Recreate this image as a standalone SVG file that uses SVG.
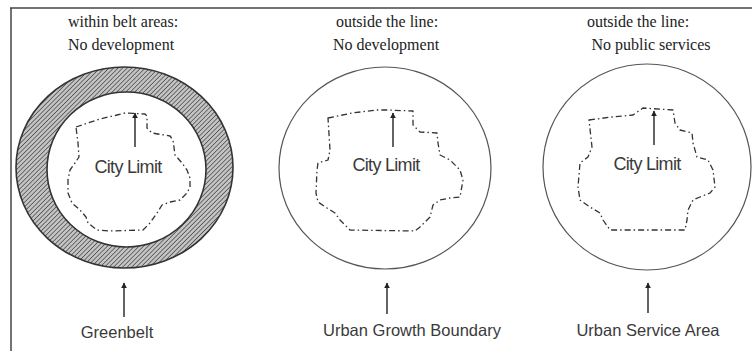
<svg xmlns="http://www.w3.org/2000/svg" width="752" height="351" viewBox="0 0 752 351">
<style>
.title{font-family:"Liberation Serif","Times New Roman",serif;font-size:16px;fill:#222;text-anchor:middle}
.lbl{font-family:"Liberation Sans",Arial,sans-serif;font-size:16.5px;fill:#3a3a3a;text-anchor:middle}
.city{font-family:"Liberation Sans",Arial,sans-serif;font-size:18px;fill:#3a3a3a;text-anchor:middle;letter-spacing:-0.7px}
.bound{fill:none;stroke:#555;stroke-width:1.2}
.blob{fill:none;stroke:#333;stroke-width:1.3;stroke-dasharray:6 3 1.5 3;stroke-linejoin:round}
.arr{stroke:#222;stroke-width:1.4;fill:none;marker-end:url(#ah)}
</style>
<defs>
<marker id="ah" viewBox="0 0 10 10" refX="9" refY="5" markerWidth="6" markerHeight="6" markerUnits="userSpaceOnUse" orient="auto">
<path d="M0,0 L10,5 L0,10 z" fill="#222"/>
</marker>
<pattern id="hatch" width="3.2" height="3.2" patternUnits="userSpaceOnUse" patternTransform="rotate(45)">
<rect width="3.2" height="3.2" fill="#c4c4c4"/>
<line x1="0" y1="0" x2="0" y2="3.2" stroke="#444" stroke-width="1.4"/>
</pattern>
</defs>
<g id="frame">
<line x1="10" y1="8" x2="752" y2="8" stroke="#444" stroke-width="1.5"/>
<line x1="11" y1="8" x2="11" y2="351" stroke="#444" stroke-width="1.5"/>
</g>
<g id="greenbelt">
<text class="title" x="123" y="27">within belt areas:</text>
<text class="title" x="121" y="50">No development</text>
<path d="M233,167.5 A108.5,100.5 0 1 0 16,167.5 A108.5,100.5 0 1 0 233,167.5 Z M206,169.5 A79.5,77.5 0 1 1 47,169.5 A79.5,77.5 0 1 1 206,169.5 Z" fill="url(#hatch)" fill-rule="evenodd" stroke="#333" stroke-width="1.6"/>
<path class="blob" d="M76,127 L100,119 L117,115 L125,113 L145,114 L147,116 L147,128 L152,133 L170,136 L173,140 L175,155 L182,163 L187,170 L190,178 L190,187 L187,193 L180,200 L170,202 L162,205 L157,213 L150,223 L143,230 L110,231 L97,230 L88,223 L86,217 L80,210 L72,203 L68,193 L68,180 L70,170 L75,163 L79,157 L78,143 Z"/>
<text class="city" x="128" y="173">City Limit</text>
<text class="lbl" x="117" y="338">Greenbelt</text>
</g>
<g id="ugb">
<text class="title" x="387" y="27">outside the line:</text>
<text class="title" x="386" y="50">No development</text>
<ellipse class="bound" cx="385" cy="168" rx="106" ry="101"/>
<path class="blob" d="M328,118 L352,113 L377,110 L387,110 L413,111 L413,125 L420,132 L437,133 L438,143 L440,155 L450,160 L460,170 L463,180 L460,197 L450,198 L440,200 L433,205 L430,217 L420,227 L415,231 L350,230 L340,220 L335,213 L327,208 L318,202 L316,193 L317,170 L318,163 L328,160 L330,150 Z"/>
<text class="city" x="386" y="171">City Limit</text>
<text class="lbl" x="412" y="336">Urban Growth Boundary</text>
</g>
<g id="usa">
<text class="title" x="638" y="27">outside the line:</text>
<text class="title" x="651" y="50">No public services</text>
<ellipse class="bound" cx="647" cy="167" rx="104" ry="103"/>
<path class="blob" d="M589,120 L612,117 L633,115 L643,108 L673,110 L675,123 L680,130 L692,133 L693,143 L697,157 L708,160 L713,170 L715,187 L710,193 L700,197 L693,200 L688,210 L687,220 L685,230 L610,230 L603,220 L600,213 L590,207 L580,200 L578,187 L580,163 L588,157 L592,147 Z"/>
<text class="city" x="647" y="170">City Limit</text>
<text class="lbl" x="648" y="336">Urban Service Area</text>
</g>
<g id="connectors">
<line class="arr" x1="135" y1="147" x2="135" y2="113"/>
<line class="arr" x1="393" y1="147" x2="393" y2="113"/>
<line class="arr" x1="654" y1="145" x2="654" y2="111"/>
<line class="arr" x1="124" y1="317" x2="124" y2="283"/>
<line class="arr" x1="387" y1="314" x2="387" y2="283"/>
<line class="arr" x1="648" y1="313" x2="648" y2="283"/>
</g>
</svg>
